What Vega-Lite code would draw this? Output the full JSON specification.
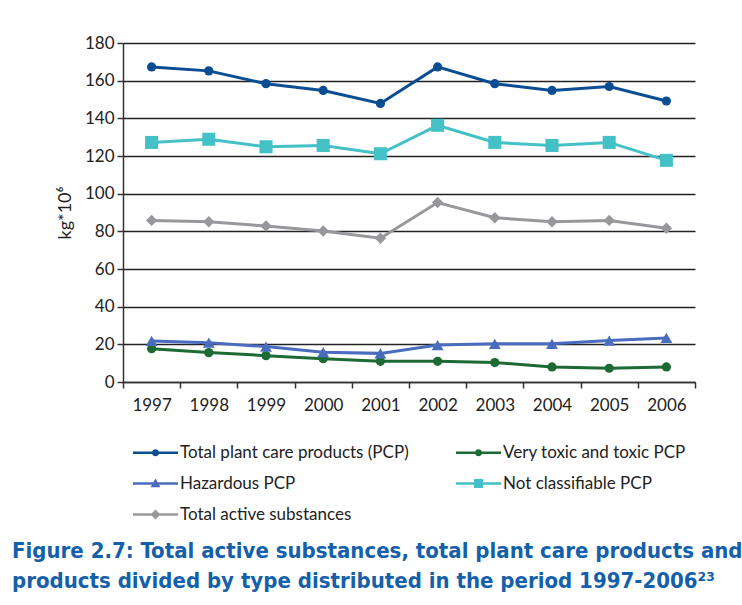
{
  "$schema": "https://vega.github.io/schema/vega-lite/v6.json",
  "width": 572,
  "height": 339,
  "autosize": {"type": "none"},
  "padding": {"left": 123, "top": 43, "right": 47, "bottom": 223},
  "background": "white",
  "config": {
    "view": {"stroke": null},
    "font": "Lato"
  },
  "title": {
    "text": ["Figure 2.7: Total active substances, total plant care products and", "products divided by type distributed in the period 1997-2006²³"],
    "orient": "bottom",
    "anchor": "start",
    "frame": "group",
    "dx": -111,
    "offset": 18,
    "font": "DejaVu Sans Condensed",
    "fontSize": 22,
    "fontWeight": "bold",
    "color": "#1560ab",
    "lineHeight": 30
  },
  "data": {
    "values": [
      {"year": "1997", "series": "Total plant care products (PCP)", "value": 167.3},
      {"year": "1998", "series": "Total plant care products (PCP)", "value": 165.2},
      {"year": "1999", "series": "Total plant care products (PCP)", "value": 158.4},
      {"year": "2000", "series": "Total plant care products (PCP)", "value": 154.8},
      {"year": "2001", "series": "Total plant care products (PCP)", "value": 147.9},
      {"year": "2002", "series": "Total plant care products (PCP)", "value": 167.3},
      {"year": "2003", "series": "Total plant care products (PCP)", "value": 158.4},
      {"year": "2004", "series": "Total plant care products (PCP)", "value": 154.8},
      {"year": "2005", "series": "Total plant care products (PCP)", "value": 156.9},
      {"year": "2006", "series": "Total plant care products (PCP)", "value": 149.2},
      {"year": "1997", "series": "Very toxic and toxic PCP", "value": 17.7},
      {"year": "1998", "series": "Very toxic and toxic PCP", "value": 15.6},
      {"year": "1999", "series": "Very toxic and toxic PCP", "value": 14.0},
      {"year": "2000", "series": "Very toxic and toxic PCP", "value": 12.4},
      {"year": "2001", "series": "Very toxic and toxic PCP", "value": 11.0},
      {"year": "2002", "series": "Very toxic and toxic PCP", "value": 11.0},
      {"year": "2003", "series": "Very toxic and toxic PCP", "value": 10.3},
      {"year": "2004", "series": "Very toxic and toxic PCP", "value": 8.0},
      {"year": "2005", "series": "Very toxic and toxic PCP", "value": 7.3},
      {"year": "2006", "series": "Very toxic and toxic PCP", "value": 8.0},
      {"year": "1997", "series": "Hazardous PCP", "value": 21.8},
      {"year": "1998", "series": "Hazardous PCP", "value": 20.9},
      {"year": "1999", "series": "Hazardous PCP", "value": 18.8},
      {"year": "2000", "series": "Hazardous PCP", "value": 15.8},
      {"year": "2001", "series": "Hazardous PCP", "value": 15.2},
      {"year": "2002", "series": "Hazardous PCP", "value": 19.6},
      {"year": "2003", "series": "Hazardous PCP", "value": 20.3},
      {"year": "2004", "series": "Hazardous PCP", "value": 20.3},
      {"year": "2005", "series": "Hazardous PCP", "value": 22.0},
      {"year": "2006", "series": "Hazardous PCP", "value": 23.4},
      {"year": "1997", "series": "Not classifiable PCP", "value": 127.2},
      {"year": "1998", "series": "Not classifiable PCP", "value": 128.9},
      {"year": "1999", "series": "Not classifiable PCP", "value": 124.9},
      {"year": "2000", "series": "Not classifiable PCP", "value": 125.6},
      {"year": "2001", "series": "Not classifiable PCP", "value": 121.2},
      {"year": "2002", "series": "Not classifiable PCP", "value": 136.3},
      {"year": "2003", "series": "Not classifiable PCP", "value": 127.2},
      {"year": "2004", "series": "Not classifiable PCP", "value": 125.6},
      {"year": "2005", "series": "Not classifiable PCP", "value": 127.2},
      {"year": "2006", "series": "Not classifiable PCP", "value": 117.7},
      {"year": "1997", "series": "Total active substances", "value": 85.8},
      {"year": "1998", "series": "Total active substances", "value": 85.1},
      {"year": "1999", "series": "Total active substances", "value": 82.8},
      {"year": "2000", "series": "Total active substances", "value": 80.2},
      {"year": "2001", "series": "Total active substances", "value": 76.3},
      {"year": "2002", "series": "Total active substances", "value": 95.3},
      {"year": "2003", "series": "Total active substances", "value": 87.2},
      {"year": "2004", "series": "Total active substances", "value": 85.1},
      {"year": "2005", "series": "Total active substances", "value": 85.8},
      {"year": "2006", "series": "Total active substances", "value": 81.6}
    ]
  },
  "encoding": {
    "x": {
      "field": "year",
      "type": "ordinal",
      "scale": {"type": "band", "paddingInner": 0, "paddingOuter": 0},
      "axis": {
        "title": null,
        "labelAngle": 0,
        "labelFontSize": 17,
        "labelColor": "#222222",
        "labelPadding": 9,
        "tickBand": "extent",
        "tickSize": 6,
        "tickColor": "#333333",
        "tickWidth": 1.5,
        "domainColor": "#333333",
        "domainWidth": 1.5,
        "grid": false
      }
    },
    "y": {
      "field": "value",
      "type": "quantitative",
      "scale": {"domain": [0, 180], "nice": false},
      "axis": {
        "title": "kg*10⁶",
        "titleFontSize": 18,
        "titleFontWeight": "normal",
        "titleColor": "#222222",
        "titlePadding": 10,
        "values": [0, 20, 40, 60, 80, 100, 120, 140, 160, 180],
        "labelFontSize": 17,
        "labelColor": "#222222",
        "labelPadding": 3,
        "tickSize": 6,
        "tickColor": "#333333",
        "tickWidth": 1.5,
        "domainColor": "#333333",
        "domainWidth": 1.5,
        "grid": true,
        "gridColor": "#222222",
        "gridWidth": 1.3
      }
    }
  },
  "layer": [
    {
      "transform": [{"filter": {"field": "series", "equal": "none"}}],
      "mark": {"type": "point", "filled": true, "opacity": 1},
      "encoding": {
        "color": {
          "field": "series",
          "type": "nominal",
          "scale": {
            "domain": ["Total plant care products (PCP)", "Very toxic and toxic PCP", "Hazardous PCP", "Not classifiable PCP", "Total active substances"],
            "range": ["#0b4d92", "#1d6a34", "#4a6cbe", "#43c1c6", "#98989c"]
          },
          "legend": {
            "title": null,
            "orient": "none",
            "legendX": 10,
            "legendY": 387,
            "columns": 2,
            "direction": "horizontal",
            "columnPadding": 47,
            "rowPadding": -5,
            "labelFontSize": 17,
            "labelColor": "#222222",
            "labelLimit": 400,
            "labelOffset": 2,
            "symbolSize": 2025,
            "symbolOpacity": 1,
            "symbolStrokeWidth": 0
          }
        },
        "shape": {
          "field": "series",
          "type": "nominal",
          "scale": {
            "domain": ["Total plant care products (PCP)", "Very toxic and toxic PCP", "Hazardous PCP", "Not classifiable PCP", "Total active substances"],
            "range": [
              "M-1,-0.055L1,-0.055L1,0.055L-1,0.055Z M-0.16,0A0.16,0.16 0 1,1 0.16,0A0.16,0.16 0 1,1 -0.16,0Z",
              "M-1,-0.055L1,-0.055L1,0.055L-1,0.055Z M-0.16,0A0.16,0.16 0 1,1 0.16,0A0.16,0.16 0 1,1 -0.16,0Z",
              "M-1,-0.055L1,-0.055L1,0.055L-1,0.055Z M0,-0.22L0.22,0.17L-0.22,0.17Z",
              "M-1,-0.055L1,-0.055L1,0.055L-1,0.055Z M-0.2,-0.2L0.2,-0.2L0.2,0.2L-0.2,0.2Z",
              "M-1,-0.055L1,-0.055L1,0.055L-1,0.055Z M0,-0.22L0.22,0L0,0.22L-0.22,0Z"
            ]
          }
        }
      }
    },
    {
      "transform": [{"filter": {"field": "series", "equal": "Total active substances"}}],
      "mark": {"type": "line", "strokeWidth": 3, "color": "#98989c", "point": {"filled": true, "shape": "diamond", "size": 130, "color": "#98989c"}}
    },
    {
      "transform": [{"filter": {"field": "series", "equal": "Not classifiable PCP"}}],
      "mark": {"type": "line", "strokeWidth": 3, "color": "#43c1c6", "point": {"filled": true, "shape": "square", "size": 170, "color": "#43c1c6"}}
    },
    {
      "transform": [{"filter": {"field": "series", "equal": "Very toxic and toxic PCP"}}],
      "mark": {"type": "line", "strokeWidth": 3, "color": "#1d6a34", "point": {"filled": true, "shape": "circle", "size": 85, "color": "#1d6a34"}}
    },
    {
      "transform": [{"filter": {"field": "series", "equal": "Hazardous PCP"}}],
      "mark": {"type": "line", "strokeWidth": 3, "color": "#4a6cbe", "point": {"filled": true, "shape": "triangle-up", "size": 140, "color": "#4a6cbe"}}
    },
    {
      "transform": [{"filter": {"field": "series", "equal": "Total plant care products (PCP)"}}],
      "mark": {"type": "line", "strokeWidth": 3, "color": "#0b4d92", "point": {"filled": true, "shape": "circle", "size": 85, "color": "#0b4d92"}}
    }
  ]
}
